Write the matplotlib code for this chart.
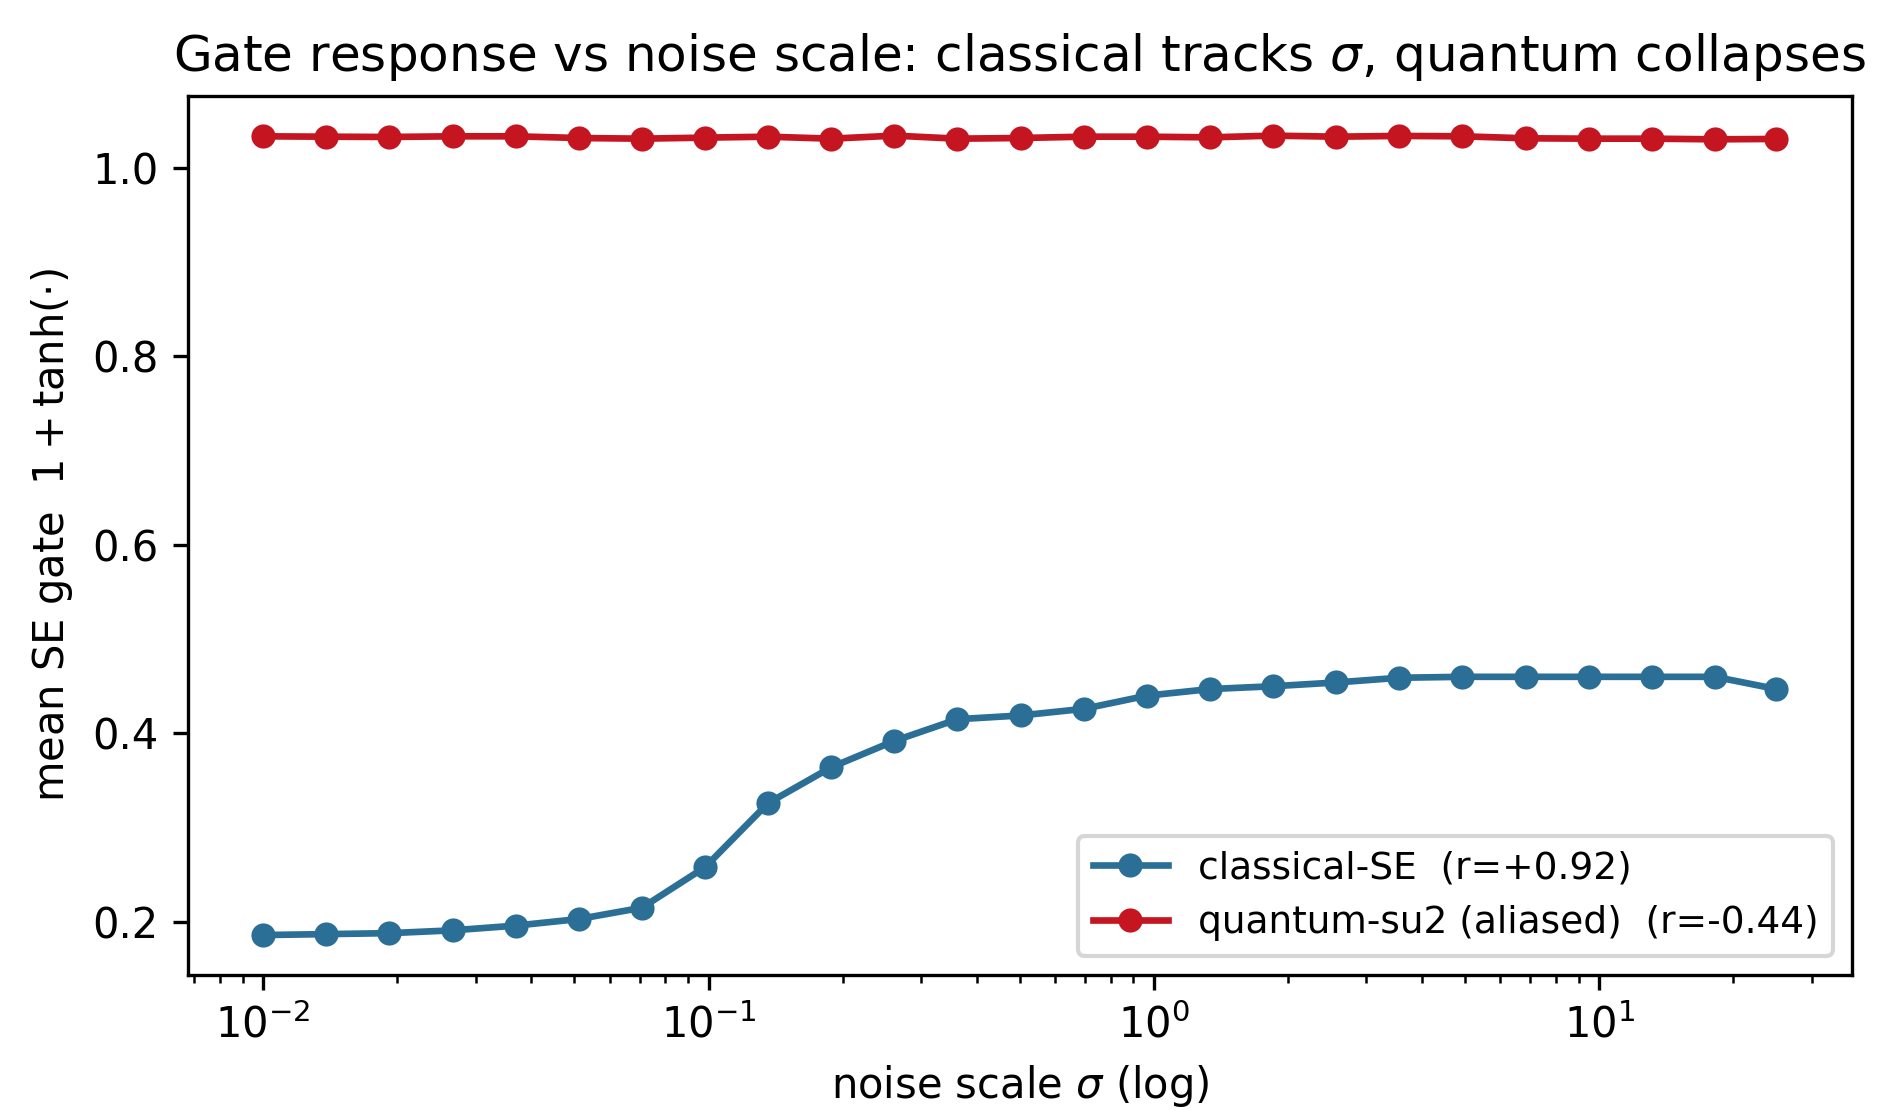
import matplotlib
matplotlib.use("Agg")
import matplotlib.pyplot as plt

sigma = [0.01, 0.01386, 0.01921, 0.02662, 0.03689, 0.05113, 0.07086, 0.09821,
         0.1361, 0.1886, 0.2614, 0.3623, 0.5021, 0.6959, 0.9645, 1.3367,
         1.8525, 2.5675, 3.5583, 4.9315, 6.8348, 9.4725, 13.128, 18.194, 25.0]
classical = [0.186, 0.187, 0.188, 0.191, 0.196, 0.203, 0.215, 0.258, 0.326,
             0.364, 0.392, 0.415, 0.419, 0.426, 0.440, 0.447, 0.450, 0.454,
             0.459, 0.460, 0.460, 0.460, 0.460, 0.460, 0.447]
quantum = [1.0335, 1.0331, 1.0328, 1.0335, 1.0335, 1.0317, 1.0310, 1.0321,
           1.0331, 1.0310, 1.0342, 1.0310, 1.0317, 1.0331, 1.0331, 1.0324,
           1.0342, 1.0331, 1.0339, 1.0335, 1.0314, 1.0310, 1.0310, 1.0303, 1.0307]
labels = ["classical-SE  (r=+0.92)", "quantum-su2 (aliased)  (r=-0.44)"]

fig = plt.figure(figsize=(1898 / 300, 1110 / 300), dpi=300)
ax = fig.add_axes([0.0988, 0.1216, 0.8770, 0.7922])
ax.plot(sigma, classical, "-o", color="#2b6f97", lw=1.6, ms=4.8, label=labels[0])
ax.plot(sigma, quantum, "-o", color="#c41521", lw=1.6, ms=4.8, label=labels[1])
ax.set_xscale("log")
ax.set_title(r"Gate response vs noise scale: classical tracks $\sigma$, quantum collapses", fontsize=12)
ax.set_xlabel(r"noise scale $\sigma$ (log)", fontsize=10)
ax.set_ylabel(r"mean SE gate  $1 + \tanh(\cdot)$", fontsize=10)
ax.tick_params(labelsize=10)
ax.legend(loc="lower right", fontsize=9)
fig.savefig("out.png", dpi=300)
